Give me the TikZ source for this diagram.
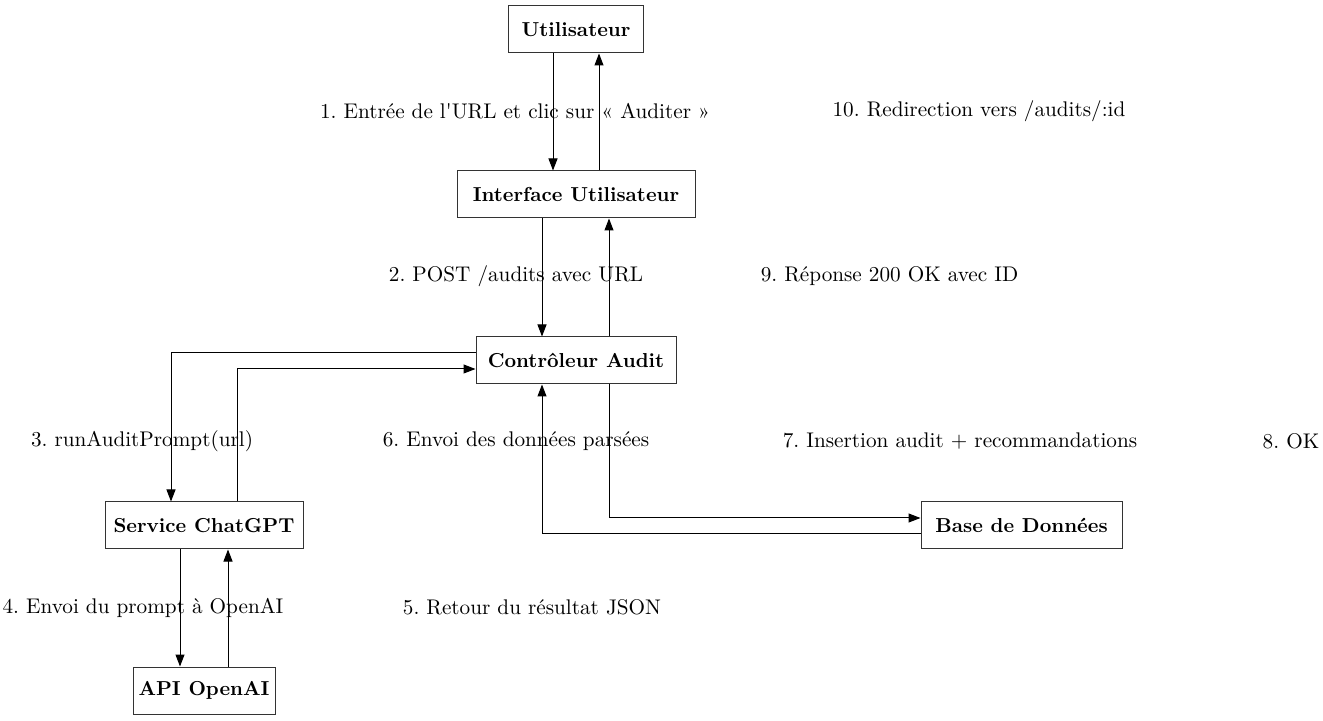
\documentclass[tikz,border=0pt]{standalone}
\usepackage{fontspec}
\usetikzlibrary{arrows.meta}
\frenchspacing
\newcommand{\myfont}{\fontsize{10.6}{12.5}\selectfont}
\newcommand{\myboldfont}{\fontsize{10.1}{12}\selectfont\bfseries}
\tikzset{
  box/.style={draw=black!80, line width=0.5pt, minimum height=23.5pt, inner sep=0pt, font=\myboldfont},
  lbl/.style={inner sep=0pt, font=\myfont},
  arr/.style={draw=black, line width=0.5pt, -{Triangle[length=6pt,width=4.5pt]}}
}
\begin{document}
\begin{tikzpicture}[x=0.5pt,y=-0.5pt]
\useasboundingbox (0,0) rectangle (1323,721);
% nodes
\node[box, minimum width=67.5pt] (u) at (576,29.5) {Utilisateur};
\node[box, minimum width=119pt] (ui) at (576,194.5) {Interface Utilisateur};
\node[box, minimum width=100pt] (ca) at (576,360.5) {Contrôleur Audit};
\node[box, minimum width=99pt] (sc) at (204,525.5) {Service ChatGPT};
\node[box, minimum width=100.5pt] (db) at (1021.5,525.5) {Base de Données};
\node[box, minimum width=71pt] (api) at (204,690.5) {API OpenAI};
% labels
\node[lbl] (l1) at (515,111.5) {1. Entrée de l\textquotesingle URL et clic sur « Auditer »};
\node[lbl] (l10) at (979,111.5) {10. Redirection vers /audits/:id};
\node[lbl] (l2) at (516,276.5) {2. POST /audits avec URL};
\node[lbl] (l9) at (889.5,276.5) {9. Réponse 200 OK avec ID};
\node[lbl] (l3) at (142,441.5) {3. runAuditPrompt(url)};
\node[lbl] (l6) at (516,441.5) {6. Envoi des données parsées};
\node[lbl] (l7) at (960,441.5) {7. Insertion audit + recommandations};
\node[lbl] (l8) at (1291,441.5) {8. OK};
\node[lbl] (l4) at (143,607.5) {4. Envoi du prompt à OpenAI};
\node[lbl] (l5) at (532,607.5) {5. Retour du résultat JSON};
% edges
\draw[arr] ([xshift=-11.5pt]u.south) -- ([xshift=-11.5pt]ui.north);
\draw[arr] ([xshift=11.5pt]ui.north) -- ([xshift=11.5pt]u.south);
\draw[arr] ([xshift=-17pt]ui.south) -- ([xshift=-17pt]ca.north);
\draw[arr] ([xshift=16.5pt]ca.north) -- ([xshift=16.5pt]ui.south);
\draw[arr] ([yshift=3.75pt]ca.west) -| ([xshift=-16.5pt]sc.north);
\draw[arr] ([xshift=16.5pt]sc.north) |- ([yshift=-4.25pt]ca.west);
\draw[arr] ([xshift=-12pt]sc.south) -- ([xshift=-12pt]api.north);
\draw[arr] ([xshift=12pt]api.north) -- ([xshift=12pt]sc.south);
\draw[arr] ([xshift=16.5pt]ca.south) |- ([yshift=3.75pt]db.west);
\draw[arr] ([yshift=-4.25pt]db.west) -| ([xshift=-17pt]ca.south);
\end{tikzpicture}
\end{document}
